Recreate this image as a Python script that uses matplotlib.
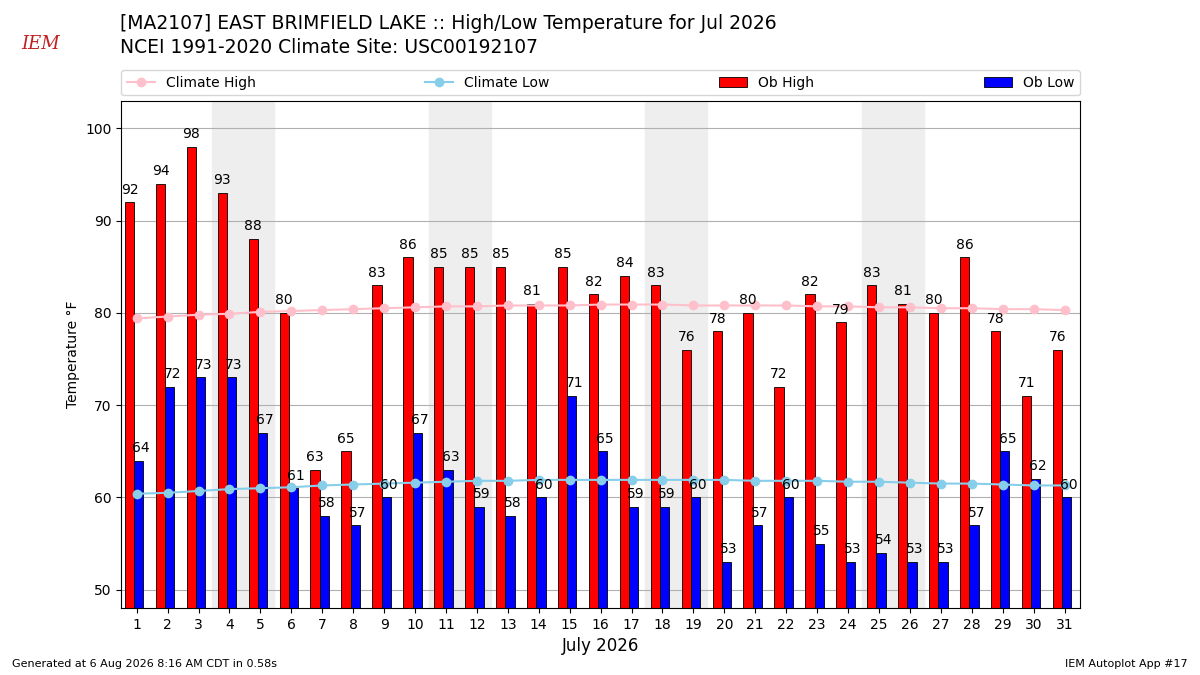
import numpy as np
import matplotlib.pyplot as plt

# ── Data ──────────────────────────────────────────────────────────────────────
days = np.arange(1, 32)
ob_high = [92, 94, 98, 93, 88, 80, 63, 65, 83, 86, 85, 85, 85, 81, 85, 82,
           84, 83, 76, 78, 80, 72, 82, 79, 83, 81, 80, 86, 78, 71, 76]
ob_low = [64, 72, 73, 73, 67, 61, 58, 57, 60, 67, 63, 59, 58, 60, 71, 65,
          59, 59, 60, 53, 57, 60, 55, 53, 54, 53, 53, 57, 65, 62, 60]
clim_high = [79.4, 79.6, 79.8, 79.9, 80.1, 80.2, 80.3, 80.4, 80.5, 80.6, 80.7,
             80.7, 80.8, 80.8, 80.8, 80.9, 80.9, 80.9, 80.8, 80.8, 80.8, 80.8,
             80.7, 80.7, 80.6, 80.6, 80.5, 80.5, 80.4, 80.4, 80.3]
clim_low = [60.4, 60.5, 60.7, 60.9, 61.0, 61.1, 61.3, 61.4, 61.5, 61.6, 61.7,
            61.8, 61.8, 61.9, 61.9, 61.9, 61.9, 61.9, 61.9, 61.9, 61.8, 61.8,
            61.8, 61.7, 61.7, 61.6, 61.5, 61.5, 61.4, 61.3, 61.3]
weekends = [4, 11, 18, 25]

# ── Figure ────────────────────────────────────────────────────────────────────
fig = plt.figure(figsize=(12, 6.75), dpi=100)
ax = fig.add_axes([0.101, 0.099, 0.799, 0.752])

for w in weekends:
    ax.axvspan(w - 0.55, w + 1.45, color="#eeeeee", zorder=0)

bw = 0.3
hb = ax.bar(days - 0.23, ob_high, bw, color="red", edgecolor="k", lw=0.6,
            label="Ob High", zorder=2)
lb = ax.bar(days + 0.07, ob_low, bw, color="blue", edgecolor="k", lw=0.6,
            label="Ob Low", zorder=2)
for d, h, l in zip(days, ob_high, ob_low):
    ax.text(d - 0.23, h + 0.6, str(h), ha="center", va="bottom", fontsize=10, zorder=5)
    ax.text(d + 0.15, l + 0.6, str(l), ha="center", va="bottom", fontsize=10, zorder=5)

ch, = ax.plot(days, clim_high, "-o", color="pink", ms=6, label="Climate High", zorder=3)
cl, = ax.plot(days, clim_low, "-o", color="skyblue", ms=6, label="Climate Low", zorder=3)

ax.set_xlim(0.5, 31.5)
ax.set_ylim(48, 103)
ax.set_xticks(days)
ax.set_yticks(range(50, 101, 10))
ax.tick_params(labelsize=10)
ax.grid(axis="y", color="#b0b0b0", lw=0.8)
ax.set_axisbelow(True)
ax.set_ylabel("Temperature °F", fontsize=10)
ax.set_xlabel("July 2026", fontsize=12)

ax.legend([ch, cl, hb, lb], ["Climate High", "Climate Low", "Ob High", "Ob Low"],
          loc="lower left", bbox_to_anchor=(0, 1.01, 1, 0.1), mode="expand",
          ncol=4, fontsize=10, borderaxespad=0)

fig.text(0.1, 0.965, "[MA2107] EAST BRIMFIELD LAKE :: High/Low Temperature for Jul 2026",
         fontsize=13.5, va="center")
fig.text(0.1, 0.929, "NCEI 1991-2020 Climate Site: USC00192107",
         fontsize=13.5, va="center")
fig.text(0.018, 0.935, "IEM", color="#c02020", fontsize=13, style="italic",
         family="DejaVu Serif", va="center")
fig.text(0.01, 0.012, "Generated at 6 Aug 2026 8:16 AM CDT in 0.58s", fontsize=8)
fig.text(0.99, 0.012, "IEM Autoplot App #17", fontsize=8, ha="right")

fig.savefig("out.png", dpi=100)
